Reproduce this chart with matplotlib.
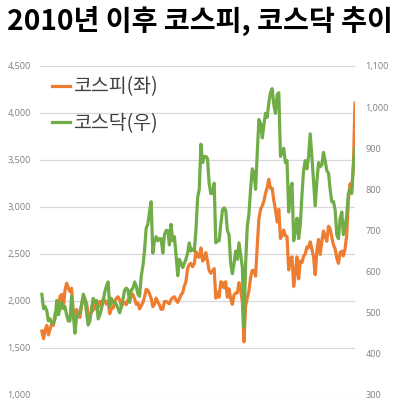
import matplotlib
matplotlib.use('Agg')
import matplotlib.pyplot as plt
import matplotlib.ticker as mticker
import numpy as np
import pandas as pd

# monthly values, Jan 2010 - Oct 2025
months = pd.date_range('2010-01-01', periods=190, freq='MS')

kospi = [
    1680, 1600, 1690, 1740, 1640, 1700, 1760, 1740, 1870, 1880, 1905, 2050,  # 2010
    2070, 1940, 2110, 2190, 2140, 2100, 2135, 1880, 1770, 1910, 1850, 1825,  # 2011
    1955, 2030, 2015, 1980, 1845, 1855, 1880, 1905, 1995, 1910, 1930, 1995,  # 2012
    1960, 2025, 2005, 1965, 2000, 1865, 1920, 1925, 1995, 2030, 2045, 2010,  # 2013
    1940, 1980, 1985, 1960, 2015, 2000, 2075, 2070, 2020, 1965, 1980, 1915,  # 2014
    1950, 1985, 2040, 2125, 2115, 2075, 2030, 1940, 1965, 2030, 1990, 1960,  # 2015
    1910, 1915, 1995, 1995, 1985, 1970, 2015, 2035, 2045, 2010, 1985, 2025,  # 2016
    2065, 2090, 2160, 2205, 2345, 2390, 2400, 2365, 2395, 2525, 2475, 2465,  # 2017
    2565, 2425, 2445, 2515, 2425, 2325, 2295, 2320, 2345, 2030, 2095, 2040,  # 2018
    2205, 2195, 2140, 2205, 2040, 2130, 2025, 1965, 2065, 2085, 2085, 2195,  # 2019
    2120, 1985, 1565, 1945, 2030, 2110, 2250, 2325, 2325, 2265, 2590, 2875,  # 2020
    2975, 3015, 3060, 3145, 3205, 3295, 3200, 3200, 3070, 2970, 2840, 2975,  # 2021
    2665, 2700, 2755, 2695, 2685, 2330, 2450, 2470, 2155, 2295, 2470, 2235,  # 2022
    2425, 2410, 2475, 2500, 2575, 2565, 2630, 2555, 2465, 2280, 2535, 2655,  # 2023
    2495, 2640, 2745, 2690, 2635, 2795, 2770, 2675, 2595, 2555, 2455, 2400,  # 2024
    2515, 2530, 2480, 2555, 2695, 3070, 3245, 3185, 3425, 4105,              # 2025
]

kosdaq = [
    545, 510, 515, 505, 480, 485, 475, 475, 485, 530, 495, 510,              # 2010
    525, 510, 515, 495, 480, 480, 540, 495, 450, 490, 495, 500,              # 2011
    520, 545, 535, 500, 470, 480, 510, 535, 525, 530, 485, 495,              # 2012
    510, 530, 550, 565, 575, 515, 535, 525, 525, 520, 510, 500,              # 2013
    515, 535, 555, 560, 555, 525, 555, 560, 575, 565, 545, 540,              # 2014
    590, 615, 650, 705, 715, 745, 770, 645, 675, 685, 675, 680,              # 2015
    680, 645, 690, 700, 700, 665, 715, 675, 685, 640, 590, 630,              # 2016
    620, 610, 620, 630, 645, 670, 650, 655, 650, 700, 780, 800,              # 2017
    910, 865, 880, 880, 875, 815, 790, 790, 815, 670, 675, 675,              # 2018
    715, 750, 755, 750, 700, 690, 620, 595, 620, 650, 630, 670,              # 2019
    640, 610, 465, 620, 710, 740, 800, 850, 840, 800, 890, 970,              # 2020
    960, 925, 955, 985, 975, 1010, 1035, 1045, 1005, 985, 1030, 1035,        # 2021
    880, 890, 900, 865, 870, 745, 800, 815, 675, 700, 730, 680,              # 2022
    715, 790, 845, 870, 850, 880, 935, 880, 820, 760, 820, 865,              # 2023
    855, 860, 890, 870, 845, 840, 800, 770, 770, 750, 690, 680,              # 2024
    730, 745, 690, 710, 735, 790, 800, 790, 860, 900,                        # 2025
]

left_ticks = [1000, 1500, 2000, 2500, 3000, 3500, 4000, 4500]
right_ticks = [300, 400, 500, 600, 700, 800, 900, 1000, 1100]

orange = '#ED7D31'
green = '#70AD47'
kr_font = ['Noto Sans CJK KR', 'DejaVu Sans']

fig = plt.figure(figsize=(3.99, 4.13), dpi=100)
ax1 = fig.add_axes([0.100, 0.0436, 0.790, 0.7966])
ax2 = ax1.twinx()

l1, = ax1.plot(months, kospi, color=orange, lw=2.3, label='코스피(좌)')
l2, = ax2.plot(months, kosdaq, color=green, lw=2.3, label='코스닥(우)')

ax1.set_ylim(1000, 4500)
ax2.set_ylim(300, 1100)
ax1.set_yticks(left_ticks)
ax2.set_yticks(right_ticks)
fmt = mticker.FuncFormatter(lambda v, p: f'{int(v):,}')
ax1.yaxis.set_major_formatter(fmt)
ax2.yaxis.set_major_formatter(fmt)
ax1.set_xlim(months[0] - pd.Timedelta(days=36), months[-1] + pd.Timedelta(days=2))
ax1.set_xticks([])

ax1.yaxis.grid(True, color='#D9D9D9', lw=0.9)
ax1.set_axisbelow(True)
for ax in (ax1, ax2):
    for s in ax.spines.values():
        s.set_visible(False)
    ax.tick_params(axis='y', length=0, labelsize=6.6, labelcolor='#808080')
ax1.tick_params(axis='y', pad=6.5)
ax2.tick_params(axis='y', pad=7.5)
for lab in ax1.get_yticklabels() + ax2.get_yticklabels():
    lab.set_family('Open Sans')

leg = ax2.legend(handles=[l1, l2], loc='upper left', bbox_to_anchor=(0.038, 0.968),
                 frameon=False, borderpad=0, borderaxespad=0,
                 handlelength=0.95, handletextpad=0.15, labelspacing=0.8,
                 prop={'family': kr_font, 'size': 14, 'weight': 'medium'})
for t in leg.get_texts():
    t.set_color('#404040')

fig.text(0.5, 0.949, '2010년 이후 코스피, 코스닥 추이', ha='center', va='center',
         fontsize=20.3, fontweight='bold', family=kr_font)

fig.savefig('out.png', dpi=100)
